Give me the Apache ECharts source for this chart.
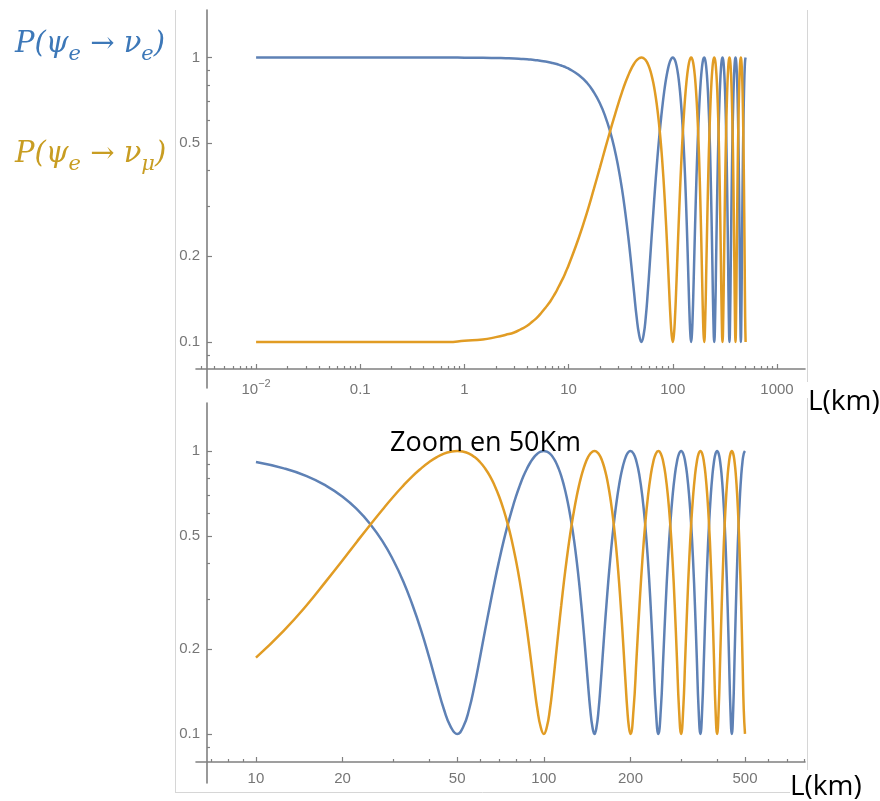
<!DOCTYPE html>
<html><head><meta charset="utf-8">
<script src="https://cdn.jsdelivr.net/npm/echarts@6/dist/echarts.min.js"></script>
<style>html,body{margin:0;padding:0;background:#fff}#c{width:880px;height:801px}</style>
</head><body><div id="c"></div>
<script>
// ---- data ----
// top panel only: short baselines (km)
const lowL = [0.01, 0.03, 0.1, 0.3, 0.5, 0.7, 1, 1.5, 2, 2.5, 3, 3.5, 4, 4.5, 5, 5.5, 6, 6.5, 7, 7.5, 8, 8.5, 9, 9.5];
const lowBlue = [1, 1, 1, 1, 1, 1, 0.999, 0.998, 0.996, 0.994, 0.992, 0.989, 0.986, 0.982, 0.978, 0.973, 0.968, 0.963, 0.957, 0.951, 0.944, 0.937, 0.93, 0.922];
const lowOrange = [0.1, 0.1, 0.1, 0.1, 0.1, 0.1, 0.101, 0.102, 0.104, 0.106, 0.108, 0.111, 0.114, 0.118, 0.122, 0.127, 0.132, 0.137, 0.143, 0.149, 0.156, 0.163, 0.17, 0.178];
// both panels: 10 .. 500 km
const mainL = [10,12.5,15,17.5,20,22.5,25,27.5,30,32.5,35,37.5,40,42.5,45,47.5,50,52.5,55,57.5,60,62.5,65,67.5,70,72.5,75,77.5,80,82.5,85,87.5,90,92.5,95,97.5,100,
  102.5,105,107.5,110,112.5,115,117.5,120,122.5,125,127.5,130,132.5,135,137.5,140,142.5,145,147.5,150,
  152.5,155,157.5,160,162.5,165,167.5,170,172.5,175,177.5,180,182.5,185,187.5,190,192.5,195,197.5,200,
  205,210,215,220,225,230,235,240,245,250,255,260,265,270,275,280,285,290,295,300,
  305,310,315,320,325,330,335,340,345,350,355,360,365,370,375,380,385,390,395,400,
  405,410,415,420,425,430,435,440,445,450,455,460,465,470,475,480,485,490,495,500];
const mainBlue = [0.914,0.868,0.815,0.754,0.689,0.62,0.55,0.48,0.411,0.346,0.285,0.232,0.186,0.149,0.122,0.106,0.1,0.106,0.122,0.149,0.186,0.232,0.285,0.346,0.411,0.48,0.55,0.62,0.689,0.754,0.815,0.868,0.914,0.951,0.978,0.994,1,
  0.994,0.978,0.951,0.914,0.868,0.815,0.754,0.689,0.62,0.55,0.48,0.411,0.346,0.285,0.232,0.186,0.149,0.122,0.106,0.1,
  0.106,0.122,0.149,0.186,0.232,0.285,0.346,0.411,0.48,0.55,0.62,0.689,0.754,0.815,0.868,0.914,0.951,0.978,0.994,1,
  0.978,0.914,0.815,0.689,0.55,0.411,0.285,0.186,0.122,0.1,0.122,0.186,0.285,0.411,0.55,0.689,0.815,0.914,0.978,1,
  0.978,0.914,0.815,0.689,0.55,0.411,0.285,0.186,0.122,0.1,0.122,0.186,0.285,0.411,0.55,0.689,0.815,0.914,0.978,1,
  0.978,0.914,0.815,0.689,0.55,0.411,0.285,0.186,0.122,0.1,0.122,0.186,0.285,0.411,0.55,0.689,0.815,0.914,0.978,1];
const mainOrange = [0.186,0.232,0.285,0.346,0.411,0.48,0.55,0.62,0.689,0.754,0.815,0.868,0.914,0.951,0.978,0.994,1,0.994,0.978,0.951,0.914,0.868,0.815,0.754,0.689,0.62,0.55,0.48,0.411,0.346,0.285,0.232,0.186,0.149,0.122,0.106,0.1,
  0.106,0.122,0.149,0.186,0.232,0.285,0.346,0.411,0.48,0.55,0.62,0.689,0.754,0.815,0.868,0.914,0.951,0.978,0.994,1,
  0.994,0.978,0.951,0.914,0.868,0.815,0.754,0.689,0.62,0.55,0.48,0.411,0.346,0.285,0.232,0.186,0.149,0.122,0.106,0.1,
  0.122,0.186,0.285,0.411,0.55,0.689,0.815,0.914,0.978,1,0.978,0.914,0.815,0.689,0.55,0.411,0.285,0.186,0.122,0.1,
  0.122,0.186,0.285,0.411,0.55,0.689,0.815,0.914,0.978,1,0.978,0.914,0.815,0.689,0.55,0.411,0.285,0.186,0.122,0.1,
  0.122,0.186,0.285,0.411,0.55,0.689,0.815,0.914,0.978,1,0.978,0.914,0.815,0.689,0.55,0.411,0.285,0.186,0.122,0.1];

// ---- ticks ----
const topXTicks = [0.01, 0.1, 1, 10, 100, 1000];
const topXLabelText = ['10', '0.1', '1', '10', '100', '1000'];
const topXLabelSup = ['\u22122', '', '', '', '', ''];
const topXMinor = [0.003,0.004,0.005,0.006,0.007,0.008,0.009, 0.02,0.03,0.04,0.05,0.06,0.07,0.08,0.09,
  0.2,0.3,0.4,0.5,0.6,0.7,0.8,0.9, 2,3,4,5,6,7,8,9, 20,30,40,50,60,70,80,90, 200,300,400,500,600,700,800,900];
const botXTicks = [10, 20, 50, 100, 200, 500];
const botXLabels = ['10', '20', '50', '100', '200', '500'];
const botXMinor = [7, 8, 9, 30, 40, 60, 70, 80, 90, 300, 400, 600, 700, 800];
const yTicks = [0.1, 0.2, 0.5, 1];
const yLabels = ['0.1', '0.2', '0.5', '1'];
const yMinor = [0.09, 0.3, 0.4, 0.6, 0.7, 0.8, 0.9];

const BLUE = '#5E81B5', ORANGE = '#E19C24';
const AX = '#808080', LBL = '#767676', SANS = '"Liberation Sans", Arial, sans-serif';

function pair(xs, ys) { return xs.map((x, i) => [x, ys[i]]); }
function lookup(ticks, labels) {
  return v => { for (let i = 0; i < ticks.length; i++) if (Math.abs(Math.log10(v / ticks[i])) < 1e-6) return labels[i]; return ''; };
}

function xPair(g, min, max, ticks, minor, fmt, margin, offset, rich) {
  const base = { type: 'log', gridIndex: g, min: min, max: max, position: 'bottom', offset: offset,
    splitLine: { show: false }, minorTick: { show: false }, minorSplitLine: { show: false } };
  return [
    Object.assign({}, base, {
      axisLine: { show: true, lineStyle: { color: AX, width: 1.6 } },
      axisTick: { show: true, inside: true, length: 5, customValues: ticks, lineStyle: { color: AX, width: 1.2 } },
      axisLabel: { show: true, customValues: ticks, formatter: fmt, margin: margin, color: LBL, fontSize: 15, fontFamily: SANS, rich: rich }
    }),
    Object.assign({}, base, {
      axisLine: { show: false },
      axisTick: { show: true, inside: true, length: 3, customValues: minor, lineStyle: { color: AX, width: 1.2 } },
      axisLabel: { show: false }
    })
  ];
}
function yPair(g, min, max) {
  const base = { type: 'log', gridIndex: g, min: min, max: max, position: 'left', offset: -11,
    splitLine: { show: false }, minorTick: { show: false }, minorSplitLine: { show: false } };
  return [
    Object.assign({}, base, {
      axisLine: { show: true, lineStyle: { color: AX, width: 1.6 } },
      axisTick: { show: true, inside: true, length: 5, customValues: yTicks, lineStyle: { color: AX, width: 1.2 } },
      axisLabel: { show: true, customValues: yTicks, formatter: lookup(yTicks, yLabels), margin: 7, color: LBL, fontSize: 15, fontFamily: SANS }
    }),
    Object.assign({}, base, {
      axisLine: { show: false },
      axisTick: { show: true, inside: true, length: 3, customValues: yMinor, lineStyle: { color: AX, width: 1.2 } },
      axisLabel: { show: false }
    })
  ];
}

const topFmt = v => {
  for (let i = 0; i < topXTicks.length; i++) {
    if (Math.abs(Math.log10(v / topXTicks[i])) < 1e-6) {
      return '{b|' + topXLabelText[i] + '}' + (topXLabelSup[i] ? '{s|' + topXLabelSup[i] + '}' : '');
    }
  }
  return '';
};
const topRich = {
  b: { fontSize: 15, lineHeight: 24, color: LBL, fontFamily: SANS },
  s: { fontSize: 11, lineHeight: 11, verticalAlign: 'top', color: LBL, fontFamily: SANS }
};

const xAxes = [].concat(
  xPair(0, 0.00265, 1858, topXTicks, topXMinor, topFmt, 9, -19, topRich),
  xPair(1, 6.19, 808, botXTicks, botXMinor, lookup(botXTicks, botXLabels), 9, -21, null)
);
const yAxes = [].concat(yPair(0, 0.0689, 1.469), yPair(1, 0.0671, 1.477));

function line(data, color, xi, yi) {
  return { type: 'line', data: data, xAxisIndex: xi, yAxisIndex: yi, showSymbol: false, smooth: true,
    lineStyle: { color: color, width: 2.5 }, itemStyle: { color: color }, z: 3 };
}

const legendRich = (col) => ({
  m: { fontFamily: '"DejaVu Serif", serif', fontStyle: 'italic', fontSize: 29, lineHeight: 42, fill: col },
  a: { fontFamily: '"DejaVu Serif", serif', fontSize: 29, lineHeight: 42, fill: col },
  sub: { fontFamily: '"DejaVu Serif", serif', fontStyle: 'italic', fontSize: 21, lineHeight: 20, verticalAlign: 'bottom', fill: col }
});
const FRAME = '#d6d6d6';

const chart = echarts.init(document.getElementById('c'));
chart.setOption({
  animation: false,
  backgroundColor: '#fff',
  grid: [
    { left: 196, top: 10, width: 609, height: 378, containLabel: false, outerBoundsMode: 'none' },
    { left: 196, top: 403, width: 609, height: 380, containLabel: false, outerBoundsMode: 'none' }
  ],
  xAxis: xAxes,
  yAxis: yAxes,
  series: [
    line(pair(lowL.concat(mainL), lowBlue.concat(mainBlue)), BLUE, 0, 0),
    line(pair(lowL.concat(mainL), lowOrange.concat(mainOrange)), ORANGE, 0, 0),
    line(pair(mainL, mainBlue), BLUE, 2, 2),
    line(pair(mainL, mainOrange), ORANGE, 2, 2)
  ],
  graphic: [
    { type: 'line', shape: { x1: 175.5, y1: 10, x2: 175.5, y2: 792 }, style: { stroke: FRAME, lineWidth: 1 }, z: 0 },
    { type: 'line', shape: { x1: 175, y1: 792.5, x2: 790, y2: 792.5 }, style: { stroke: FRAME, lineWidth: 1 }, z: 0 },
    { type: 'line', shape: { x1: 807.5, y1: 10, x2: 807.5, y2: 382 }, style: { stroke: FRAME, lineWidth: 1 }, z: 0 },
    { type: 'line', shape: { x1: 807.5, y1: 398, x2: 807.5, y2: 770 }, style: { stroke: FRAME, lineWidth: 1 }, z: 0 },
    { type: 'text', x: 15, y: 23, z: 100, style: { text: '{m|P(ψ}{sub|e}{a| → }{m|ν}{sub|e}{m|)}', rich: legendRich('#3d78b8'), verticalAlign: 'top', align: 'left' } },
    { type: 'text', x: 15, y: 133, z: 100, style: { text: '{m|P(ψ}{sub|e}{a| → }{m|ν}{sub|μ}{m|)}', rich: legendRich('#c89d22'), verticalAlign: 'top', align: 'left' } },
    { type: 'text', x: 390, y: 443, z: 100, style: { text: 'Zoom en 50Km', fontFamily: '"Open Sans", sans-serif', fontSize: 27, fill: '#000', verticalAlign: 'middle', align: 'left' } },
    { type: 'text', x: 808, y: 402, z: 100, style: { text: 'L(km)', fontFamily: '"Open Sans", sans-serif', fontSize: 28, fill: '#000', verticalAlign: 'middle', align: 'left' } },
    { type: 'text', x: 790, y: 787, z: 100, style: { text: 'L(km)', fontFamily: '"Open Sans", sans-serif', fontSize: 28, fill: '#000', verticalAlign: 'middle', align: 'left' } }
  ]
});
</script></body></html>
